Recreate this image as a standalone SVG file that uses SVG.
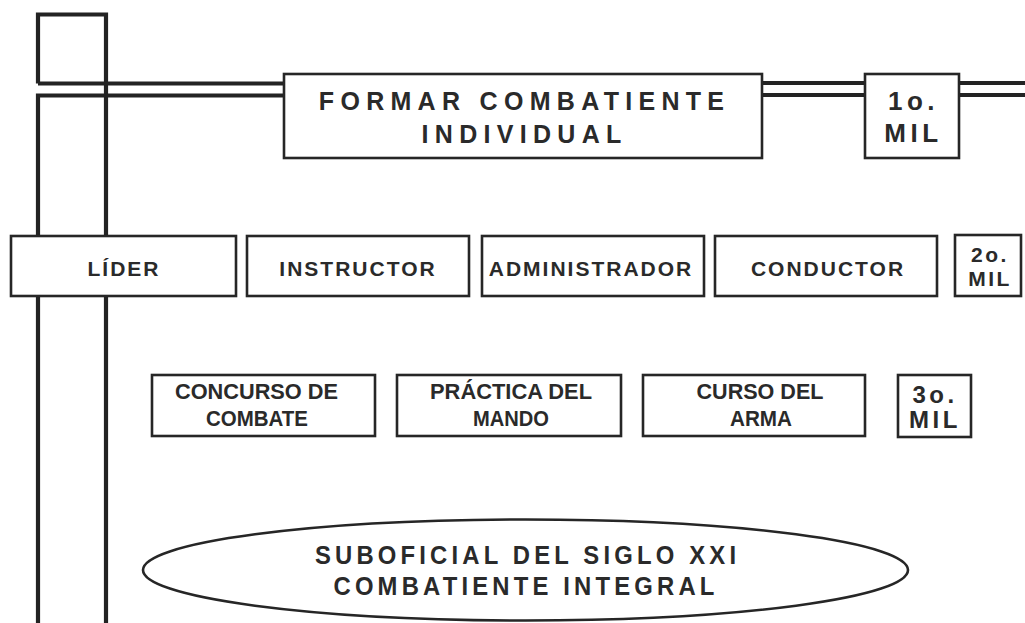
<svg xmlns="http://www.w3.org/2000/svg" width="1025" height="623" viewBox="0 0 1025 623">
<style>
.bg{fill:#fff}
.ln{fill:none;stroke:#232323;stroke-width:4.2;stroke-linejoin:miter}
.bx{fill:#fff;stroke:#262626;stroke-width:2.6}
text{font-family:"Liberation Sans",Arial,Helvetica,sans-serif;font-weight:bold;fill:#2a2a2a;text-anchor:middle}
.t1{font-size:25px;letter-spacing:6.3px}
.m1{font-size:26px;letter-spacing:4.5px}
.t2{font-size:21px;letter-spacing:2px}
.m2{font-size:21px;letter-spacing:2.5px}
.t3{font-size:22.5px}
.m3{font-size:24px;letter-spacing:3.5px}
.t4{font-size:26.5px;letter-spacing:4.65px}
</style>
<rect class="bg" x="0" y="0" width="1025" height="623"/>
<g id="connectors">
  <path class="ln" d="M38,83.5 V14.5 H106 V623"/>
  <path class="ln" d="M38,83.5 H284"/>
  <path class="ln" d="M38,623 V95.5 H284"/>
  <path class="ln" d="M762,83 H865 M762,95 H865"/>
  <path class="ln" d="M959,83 H1025 M959,95 H1025"/>
</g>
<g id="formar">
  <rect class="bx" x="284" y="74" width="478" height="84"/>
  <text class="t1" x="524.6" y="110">FORMAR COMBATIENTE</text>
  <text class="t1" x="524.6" y="143">INDIVIDUAL</text>
</g>
<g id="mil1">
  <rect class="bx" x="865" y="74" width="94" height="84"/>
  <text class="m1" x="913.5" y="110">1o.</text>
  <text class="m1" x="913.5" y="142">MIL</text>
</g>
<g id="lider">
  <rect class="bx" x="11" y="236" width="225" height="60"/>
  <text class="t2" x="124" y="276">LÍDER</text>
</g>
<g id="instructor">
  <rect class="bx" x="247" y="236" width="222" height="60"/>
  <text class="t2" x="358" y="276">INSTRUCTOR</text>
</g>
<g id="administrador">
  <rect class="bx" x="482" y="236" width="222" height="60"/>
  <text class="t2" x="591" y="276">ADMINISTRADOR</text>
</g>
<g id="conductor">
  <rect class="bx" x="715" y="236" width="222" height="60"/>
  <text class="t2" x="828" y="276">CONDUCTOR</text>
</g>
<g id="mil2">
  <rect class="bx" x="955" y="235" width="66" height="61"/>
  <text class="m2" x="990" y="262">2o.</text>
  <text class="m2" x="990" y="286">MIL</text>
</g>
<g id="concurso">
  <rect class="bx" x="152" y="375" width="223" height="61"/>
  <text class="t3" x="256.5" y="399" textLength="163" lengthAdjust="spacingAndGlyphs">CONCURSO DE</text>
  <text class="t3" x="257" y="426" textLength="102" lengthAdjust="spacingAndGlyphs">COMBATE</text>
</g>
<g id="practica">
  <rect class="bx" x="397" y="375" width="224" height="61"/>
  <text class="t3" x="511" y="399" textLength="162" lengthAdjust="spacingAndGlyphs">PRÁCTICA DEL</text>
  <text class="t3" x="511" y="426" textLength="76" lengthAdjust="spacingAndGlyphs">MANDO</text>
</g>
<g id="curso">
  <rect class="bx" x="643" y="375" width="222" height="61"/>
  <text class="t3" x="760" y="399" textLength="127" lengthAdjust="spacingAndGlyphs">CURSO DEL</text>
  <text class="t3" x="761" y="426" textLength="62" lengthAdjust="spacingAndGlyphs">ARMA</text>
</g>
<g id="mil3">
  <rect class="bx" x="898" y="375" width="73" height="62"/>
  <text class="m3" x="935" y="403">3o.</text>
  <text class="m3" x="935" y="428">MIL</text>
</g>
<g id="suboficial">
  <ellipse class="bx" cx="525.5" cy="570" rx="382.5" ry="50.5"/>
  <g transform="translate(525.5,0) scale(0.9,1)">
    <text class="t4" x="2.3" y="564">SUBOFICIAL DEL SIGLO XXI</text>
    <text class="t4" x="0.6" y="595">COMBATIENTE INTEGRAL</text>
  </g>
</g>
</svg>
